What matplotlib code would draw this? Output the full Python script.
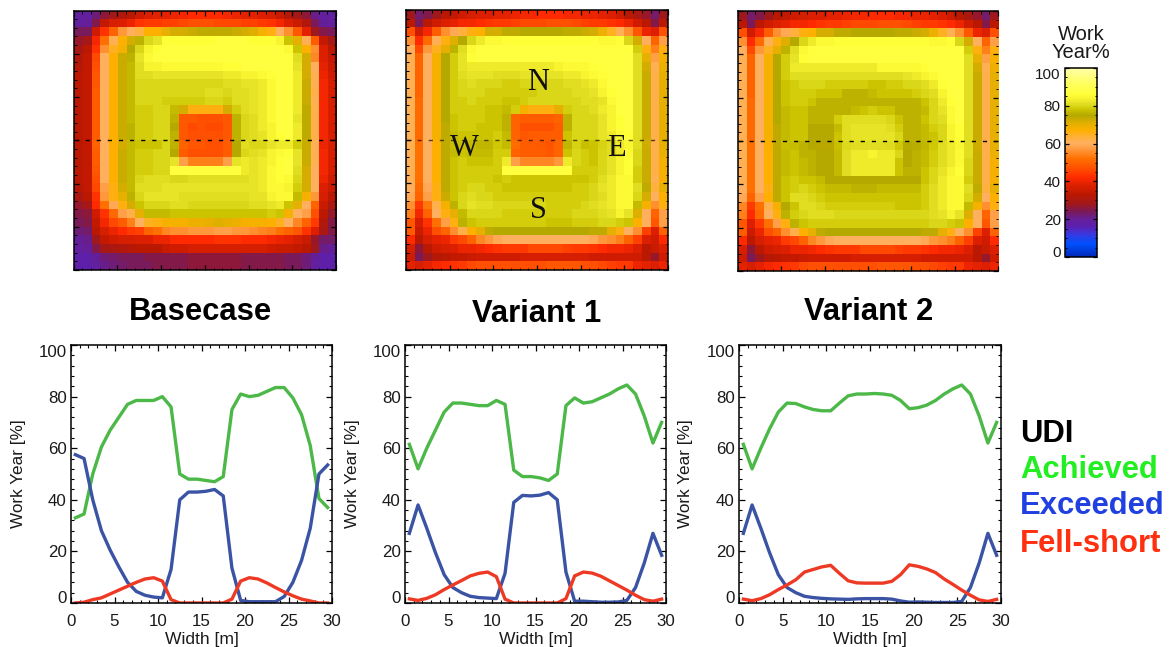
import numpy as np
import matplotlib
matplotlib.use("Agg")
import matplotlib.pyplot as plt
from matplotlib.colors import LinearSegmentedColormap, Normalize
from matplotlib.cm import ScalarMappable
from matplotlib.ticker import MultipleLocator

plt.rcParams['font.family'] = ['Liberation Sans', 'DejaVu Sans']

W, H = 1171, 647
width_m = [i + 0.5 for i in range(30)]

achieved_base = [33,34.5,50,60.5,67,72,77,78.5,78.5,78.5,80,76,50,48,48,47.5,47,49,75,81,80,80.5,82,83.5,83.5,79.5,73,61,40.5,37]
exceeded_base = [57.5,56,40,28,20.5,14,8,4.5,3,2.3,2,13,40,43,43,43.3,44,41.5,13.5,1,0.5,0.5,0.5,0.5,2.5,8,16.5,29,50,53.5]
fellshort_base = [0,0.3,1.3,2,3.5,5,6.5,8,9.3,9.8,8.5,1.3,0,0,0,0,0,0,1.5,8.5,9.8,9.3,7.8,6,4.3,2.8,1.5,0.8,0,0]

achieved_v1 = [61.5,52,60,67,74,77.5,77.5,77,76.5,76.5,78.5,77,51.5,49,49,48.5,47.5,50,76.5,79.5,77.5,78,79.5,81,83,84.5,81,72.5,62,70]
exceeded_v1 = [27,38,29,19.5,11,6,4,2.6,2.1,1.9,1.7,11.5,39,41.7,41.5,41.8,42.8,40,12,0.7,0.7,0.5,0.3,0.3,0.4,1,6,15.5,27,18.5]
fellshort_v1 = [1.6,1.0,1.8,3.2,5.2,7,8.7,10.5,11.5,12,10.2,1.5,0,0,0,0,0,0,1.7,10.5,12,11.6,10.4,8.6,6.8,5,3,1.3,0.7,1.5]

achieved_v2 = [61.5,52,60,67.5,74,77.5,77.3,76,75,74.5,74.5,77.5,80.3,81,81,81.2,81,80.5,78.5,75.3,75.7,76.7,78.5,81,83,84.5,81,72.5,62,70]
exceeded_v2 = [27,38,29,19.5,11,6,4,2.6,2.1,1.8,1.6,1.5,1.4,1.6,1.7,1.7,1.7,1.5,0.8,0.3,0.4,0.3,0.2,0.2,0.2,0.6,6,15.5,27,18.5]
fellshort_v2 = [1.5,0.9,1.7,3.2,5.2,7,9,12,13,14,14.6,11.5,8.6,7.8,7.7,7.7,7.7,8.4,11,14.8,14.2,13.2,11.8,9.3,7.2,5,3,1.2,0.6,1.4]

basecase_map = [
 [19,19,22,26,29,31,33,36,38,39, 39,40,41,42,42,42,42,41,40,39, 39,38,37,35,32,29,26,21,19,19],
 [19,20,25,34,37,38,40,43,44,44, 45,45,46,47,47,47,46,46,46,45, 45,44,43,41,38,35,31,24,20,19],
 [24,24,36,43,50,57,60,63,67,67, 70,72,72,73,74,74,74,74,73,72, 71,68,66,60,56,48,39,28,25,24],
 [27,29,41,52,61,67,72,76,80,82, 86,86,86,86,86,86,87,87,87,87, 86,86,86,84,78,70,61,49,34,29],
 [29,33,43,56,65,68,75,80,84,86, 87,87,87,87,87,87,87,87,87,87, 87,87,87,87,85,78,67,56,38,33],
 [31,34,46,60,67,73,76,82,85,87, 87,87,87,87,87,87,87,87,87,87, 87,87,87,87,87,81,72,55,38,34],
 [32,34,47,60,67,73,77,81,84,84, 85,85,85,85,85,85,85,86,86,87, 87,87,87,87,87,82,72,60,39,35],
 [33,34,48,60,67,73,77,81,81,82, 82,82,82,82,82,82,82,83,83,84, 84,85,86,87,87,83,72,61,40,36],
 [33,34,48,60,67,73,77,80,80,80, 80,80,80,80,80,80,80,81,81,82, 82,83,85,87,87,83,73,61,41,37],
 [33,34,49,60,67,73,77,80,80,80, 80,80,80,80,80,81,81,80,81,81, 82,83,85,87,87,83,73,62,41,37],
 [33,34,49,60,67,73,77,80,80,80, 79,79,79,79,79,80,80,79,81,81, 82,83,85,87,87,83,73,61,41,37],
 [33,34,49,60,67,73,77,79,79,80, 80,77,72,66,66,66,66,72,79,81, 82,83,85,87,87,83,74,62,41,37],
 [33,34,49,60,67,73,77,79,79,80, 80,76,48,48,47,47,47,48,76,80, 81,83,85,87,87,82,74,62,41,37],
 [33,34,49,60,67,73,76,79,79,80, 80,75,48,46,47,46,46,48,76,80, 81,83,84,87,87,83,74,62,41,37],
 [33,34,49,60,67,73,76,79,79,80, 80,76,48,47,47,47,47,48,76,80, 81,82,84,86,87,83,74,62,41,37],
 [33,34,50,60,67,72,77,78,78,78, 80,76,50,48,48,47,47,49,75,81, 80,80,82,83,83,79,73,61,40,37],
 [33,34,49,60,67,73,77,79,79,80, 80,75,49,47,47,47,47,49,75,80, 81,82,84,85,86,82,73,61,41,37],
 [33,34,49,60,67,73,77,79,79,80, 80,82,58,54,54,54,54,58,82,83, 82,83,84,86,87,82,73,61,41,37],
 [33,34,48,60,67,73,77,79,79,80, 80,87,87,87,87,87,87,87,87,83, 82,83,85,86,87,81,72,60,41,37],
 [33,34,47,60,67,73,77,80,81,81, 81,80,80,81,81,81,81,81,81,81, 82,83,85,86,85,80,72,60,40,36],
 [32,34,46,58,66,72,77,81,81,81, 82,82,82,82,82,82,82,82,82,82, 82,83,85,85,84,79,72,60,38,35],
 [30,33,43,57,66,70,76,80,82,82, 82,82,81,81,81,81,81,81,81,81, 82,82,84,85,85,77,68,57,37,33],
 [27,29,42,52,59,66,72,78,80,80, 80,81,81,80,80,80,80,80,80,80, 81,81,82,83,78,70,60,50,35,30],
 [25,26,36,43,51,58,62,70,77,77, 77,78,78,78,78,78,78,78,78,78, 78,78,79,78,68,60,58,47,33,27],
 [24,25,34,41,46,49,54,60,65,66, 68,68,68,69,69,70,71,70,69,68, 68,68,67,65,60,55,50,44,31,25],
 [22,23,33,37,40,42,44,45,50,52, 55,56,56,57,57,57,58,58,57,57, 56,55,54,52,50,48,43,38,30,25],
 [20,21,28,34,36,37,37,38,38,40, 40,42,42,42,42,42,43,43,43,42, 42,42,41,40,39,37,35,27,23,23],
 [19,20,25,29,30,31,32,33,33,33, 35,36,36,37,37,37,37,37,37,37, 37,37,36,35,35,34,33,28,21,20],
 [17,17,20,22,23,24,24,24,25,25, 25,25,25,26,26,26,26,26,26,25, 25,25,25,25,24,24,22,20,17,17],
 [17,17,19,21,22,23,24,24,24,25, 25,25,25,26,26,26,26,26,26,25, 25,25,25,25,24,24,22,19,17,17],
]

variant1_map = [
 [28,23,25,28,33,34,36,37,38,38, 39,39,40,41,41,42,42,42,41,41, 40,40,39,38,36,33,30,27,23,28],
 [33,24,33,36,38,39,41,41,42,43, 44,44,45,46,46,46,47,47,47,46, 45,44,44,43,42,40,36,33,25,33],
 [47,36,41,49,56,59,63,66,67,72, 72,74,74,75,75,75,75,75,74,74, 73,72,69,65,61,56,48,40,38,47],
 [56,42,51,61,66,71,75,80,83,85, 85,86,86,86,86,86,86,86,86,86, 86,86,85,85,86,80,72,60,50,58],
 [60,46,57,65,70,76,81,85,87,87, 87,87,87,87,87,87,87,87,87,87, 87,87,87,87,87,87,79,66,54,66],
 [61,50,60,68,75,79,82,86,87,87, 87,87,87,87,87,87,87,87,87,87, 87,87,87,87,87,87,81,70,58,68],
 [61,50,60,68,75,79,82,83,83,83, 83,83,83,83,83,83,83,84,85,85, 85,86,87,87,87,87,81,72,61,69],
 [61,50,60,68,75,79,81,82,82,82, 81,81,81,82,82,82,82,82,83,83, 84,85,86,87,87,87,81,73,62,70],
 [61,50,60,68,75,79,80,81,80,80, 80,79,79,80,80,80,80,80,81,81, 82,83,85,87,87,87,81,73,62,70],
 [61,50,60,68,75,79,80,80,80,79, 79,79,79,79,79,80,80,80,80,81, 81,82,84,86,87,87,81,73,62,70],
 [61,51,60,68,75,79,79,80,79,79, 79,78,78,79,80,80,80,80,80,80, 81,81,82,85,87,87,81,73,62,70],
 [61,51,60,68,75,79,79,79,79,78, 78,77,79,68,66,66,66,70,79,80, 80,81,83,84,87,87,81,73,62,70],
 [61,51,60,68,75,78,79,79,79,78, 78,76,50,49,49,49,49,50,76,80, 80,80,82,84,86,87,81,73,62,70],
 [61,51,60,68,74,78,79,79,78,78, 78,76,50,47,47,47,47,49,76,80, 80,80,82,84,86,87,81,73,62,70],
 [61,51,60,68,74,77,78,78,78,78, 79,77,50,48,49,49,49,49,78,80, 80,80,82,83,85,86,81,73,62,70],
 [61.5,52,60,67,74,77.5,77.5,77,76.5,76.5, 78.5,77,51.5,49,49,48.5,47.5,50,76.5,79.5, 77.5,78,79.5,81,83,84.5,81,72.5,62,70],
 [61,52,60,67,74,77,78,77,77,77, 79,79,50,49,49,49,48,50,78,80, 79,78,80,81,83,85,80,73,62,69],
 [61,52,60,67,74,78,79,78,78,78, 79,83,58,55,55,55,55,57,83,80, 79,78,80,82,84,86,80,73,62,68],
 [61,52,60,67,74,78,79,79,79,79, 79,87,87,87,87,87,87,87,87,79, 79,79,80,82,84,86,79,73,62,68],
 [61,52,60,67,74,78,79,79,79,79, 78,79,78,78,78,78,78,78,78,78, 78,79,81,83,85,85,79,73,61,68],
 [60,51,59,66,74,78,79,80,80,79, 79,78,78,78,78,78,78,78,78,79, 79,80,82,83,85,85,81,74,63,70],
 [59,50,58,66,73,78,80,81,80,80, 79,79,79,79,79,79,79,79,79,79, 79,80,81,83,85,85,80,72,60,67],
 [56,44,53,62,68,76,80,82,81,81, 80,80,80,80,80,80,79,79,79,79, 80,81,82,83,85,85,77,68,56,66],
 [54,41,50,60,66,70,77,80,80,80, 80,79,79,79,79,79,79,79,79,80, 80,80,81,82,84,82,71,60,50,58],
 [48,37,43,52,58,66,76,78,79,79, 79,79,79,79,79,79,78,78,78,79, 79,79,80,80,79,78,67,60,48,58],
 [49,35,40,47,50,56,62,67,70,74, 75,75,75,75,75,75,75,75,75,75, 75,74,74,70,66,60,56,45,38,50],
 [42,33,37,39,40,44,46,50,55,57, 59,60,60,60,60,60,60,60,60,60, 60,59,57,56,54,50,45,38,36,42],
 [37,26,33,36,37,38,40,40,41,42, 43,44,44,44,46,46,46,46,45,44, 44,43,42,41,41,40,38,33,35,38],
 [36,24,28,32,33,34,34,35,36,36, 36,36,36,37,37,37,37,37,37,37, 37,36,36,36,36,36,36,33,27,36],
 [39,37,39,41,42,43,44,46,47,47, 47,47,47,47,47,47,48,48,48,48, 47,47,46,45,44,44,40,39,38,40],
]

variant2_map = [
 [28,23,25,28,33,34,36,37,38,38, 39,39,40,41,41,42,42,42,41,41, 40,40,39,38,36,33,30,27,23,28],
 [33,24,33,36,38,39,41,41,42,43, 44,44,45,46,46,46,47,47,47,46, 45,44,44,43,42,40,36,33,25,33],
 [47,36,41,49,56,59,63,66,67,72, 72,74,74,75,75,75,75,75,74,74, 73,72,69,65,61,56,48,40,38,47],
 [56,42,51,61,66,71,75,80,83,85, 85,86,86,86,86,86,86,86,86,86, 86,86,85,85,86,80,72,60,50,58],
 [60,46,57,65,70,76,81,85,87,87, 87,87,87,87,87,87,87,87,87,87, 87,87,87,87,87,87,79,66,54,66],
 [61,50,60,68,75,79,82,86,87,87, 87,87,87,87,87,87,87,87,87,87, 87,87,87,87,87,87,81,70,58,68],
 [61,50,60,68,75,79,83,83,83,83, 83,83,83,83,83,83,85,85,85,85, 85,86,87,87,87,87,81,72,61,69],
 [61,50,60,68,75,79,81,81,81,81, 81,81,81,81,81,81,81,81,81,82, 83,84,85,87,87,87,81,73,62,70],
 [61,50,60,68,75,78,79,80,80,80, 79,79,79,79,79,78,78,79,79,80, 80,81,83,86,87,87,81,73,62,70],
 [61,50,60,68,75,78,79,79,79,78, 78,78,76,76,76,77,78,78,78,78, 79,80,81,84,87,87,81,73,62,70],
 [61,51,60,68,75,78,79,79,78,76, 76,76,76,76,76,76,76,76,76,76, 76,78,80,83,86,87,81,73,62,70],
 [61,51,60,68,75,77,78,78,76,76, 76,76,76,77,78,79,78,78,76,76, 76,77,80,82,85,87,81,73,62,70],
 [61,51,60,68,75,77,78,78,76,76, 76,79,81,81,81,81,81,80,78,76, 76,78,80,81,85,87,81,73,62,70],
 [61,51,60,68,74,77,78,78,75,75, 75,77,81,82,82,82,82,81,79,76, 76,77,79,80,84,86,81,73,62,70],
 [61,51,60,68,74,77,78,78,75,75, 75,78,81,82,82,82,82,82,80,76, 76,77,78,80,84,86,81,73,62,70],
 [61.5,52,60,67.5,74,77.5,77.3,76,75,74.5, 74.5,77.5,80.3,81,81,81.2,81,80.5,78.5,75.3, 75.7,76.7,78.5,81,83,84.5,81,72.5,62,70],
 [61,52,60,67,74,77,78,76,76,75, 75,77,81,83,83,84,83,83,80,75, 76,77,79,81,83,85,81,73,62,69],
 [61,52,60,67,74,77,78,77,76,75, 75,77,81,83,83,83,83,83,78,75, 76,77,79,81,83,85,80,73,62,68],
 [61,52,60,67,74,77,78,77,76,75, 75,77,81,83,83,83,83,83,78,76, 76,78,80,82,84,86,80,73,62,68],
 [61,52,60,67,74,78,79,78,78,77, 75,75,75,75,75,75,75,75,75,75, 75,78,80,83,85,85,79,73,62,68],
 [60,52,60,66,74,78,79,80,79,78, 77,77,77,76,76,76,77,77,77,77, 77,79,81,83,85,85,81,74,63,70],
 [59,50,58,67,74,78,81,81,80,79, 78,78,78,78,78,78,78,78,78,78, 78,79,81,83,85,85,80,72,60,67],
 [55,44,52,62,68,75,78,81,81,80, 79,79,79,79,79,79,79,79,78,78, 78,79,81,83,85,85,77,68,56,66],
 [54,42,51,60,66,76,79,80,81,81, 81,80,80,80,80,80,80,80,80,80, 80,80,81,82,84,82,71,60,50,58],
 [48,38,44,52,58,66,76,78,79,79, 79,79,79,79,79,79,79,79,79,79, 79,79,80,80,79,78,67,60,48,58],
 [49,35,40,47,50,56,62,67,70,74, 75,75,75,75,75,75,75,75,75,75, 75,74,74,70,66,60,56,45,38,50],
 [42,33,37,39,40,44,46,50,55,57, 59,60,60,60,60,60,60,60,60,60, 60,59,57,56,54,50,45,38,36,42],
 [37,26,33,36,37,38,40,40,41,42, 43,44,44,44,46,46,46,46,45,44, 44,43,42,41,41,40,38,33,35,38],
 [36,24,28,32,33,34,34,35,36,36, 36,36,36,37,37,37,37,37,37,37, 37,36,36,36,36,36,36,33,27,36],
 [39,37,39,41,42,43,44,46,47,47, 47,47,47,47,47,47,48,48,48,48, 47,47,46,45,44,44,40,39,38,40],
]

cmap_stops = [
 (0, '#0028b8'), (7, '#0050ff'), (12, '#3a38e0'), (16, '#5c20b0'), (20, '#651f98'),
 (24, '#7a1a58'), (28, '#a0181c'), (33, '#bb1800'), (38, '#dd2000'), (42, '#ff2a00'),
 (47, '#ff5000'), (52, '#ff7000'), (56, '#ff9030'), (60, '#ffb060'), (63, '#ffb040'),
 (67, '#ffb000'), (71, '#e0b000'), (75, '#b4a800'), (78, '#ccc400'), (80, '#dad618'),
 (82, '#e8e428'), (84, '#f8f430'), (86, '#ffff38'), (92, '#ffff60'), (100, '#ffffa8'),
]
cmap = LinearSegmentedColormap.from_list('workyear', [(v / 100, c) for v, c in cmap_stops], N=512)
norm = Normalize(0, 100)

map_panels = [
 (basecase_map, (73.5, 10.5, 336, 270), 1.0, True),
 (variant1_map, (406, 10, 668, 270), 0.65, True),
 (variant2_map, (738, 11, 998, 271), 1.0, False),
]
line_panels = [
 (achieved_base, exceeded_base, fellshort_base, (71, 345, 332, 603)),
 (achieved_v1, exceeded_v1, fellshort_v1, (405, 345, 666, 603)),
 (achieved_v2, exceeded_v2, fellshort_v2, (739, 345, 1001, 603)),
]
titles = [('Basecase', 200, 312), ('Variant 1', 537, 314), ('Variant 2', 869, 312)]
compass = [('N', 538, 82), ('W', 464, 149), ('E', 616, 149), ('S', 538, 210)]
legend_labels = [('UDI', '#000000', 434), ('Achieved', '#22ee22', 470), ('Exceeded', '#2040e0', 506), ('Fell-short', '#ff3010', 544)]
y_ticks = [0, 20, 40, 60, 80, 100]
x_ticks = [0, 5, 10, 15, 20, 25, 30]

fig = plt.figure(figsize=(W / 100, H / 100), dpi=100)
fig.patch.set_facecolor('white')
TXT = '#1a1a1a'


def add_axes(box):
    l, t, r, b = box
    return fig.add_axes([l / W, 1 - b / H, (r - l) / W, (b - t) / H])


def px_text(x, y, s, **kw):
    fig.text(x / W, 1 - y / H, s, ha=kw.pop('ha', 'center'), va=kw.pop('va', 'center'), **kw)


def edge_labels(ax):
    labels = ax.get_yticklabels()
    labels[0].set_va('baseline')
    labels[-1].set_va('top')


for data, box, dash_alpha, right_spine in map_panels:
    ax = add_axes(box)
    ax.imshow(np.array(data), cmap=cmap, norm=norm, extent=(0, 30, 30, 0),
              interpolation='nearest', aspect='auto')
    ax.axhline(15, color='black', lw=1.0, ls=(0, (3, 5)), alpha=dash_alpha)
    ax.set_xticks(x_ticks)
    ax.set_yticks(x_ticks)
    ax.xaxis.set_minor_locator(MultipleLocator(1))
    ax.yaxis.set_minor_locator(MultipleLocator(1))
    ax.tick_params(which='major', direction='in', length=3.5, width=0.9, top=True, right=True,
                   labelleft=False, labelbottom=False)
    ax.tick_params(which='minor', direction='in', length=1.8, width=0.7, top=True, right=True)
    for name, sp in ax.spines.items():
        sp.set_linewidth(1.1)
    if not right_spine:
        ax.spines['right'].set_visible(False)

for ach, exc, fel, box in line_panels:
    ax = add_axes(box)
    ax.plot(width_m, ach, color='#4cb848', lw=2.4, solid_joinstyle='round')
    ax.plot(width_m, exc, color='#3a53a4', lw=2.4, solid_joinstyle='round')
    ax.plot(width_m, fel, color='#ee3a24', lw=2.4, solid_joinstyle='round')
    ax.set_xlim(0, 30)
    ax.set_ylim(0, 100)
    ax.set_xticks(x_ticks)
    ax.set_yticks(y_ticks)
    ax.xaxis.set_minor_locator(MultipleLocator(1))
    ax.yaxis.set_minor_locator(MultipleLocator(4))
    ax.tick_params(which='major', direction='in', length=4.5, width=0.9, top=True, right=True,
                   labelsize=12.2, labelcolor=TXT)
    ax.tick_params(which='minor', direction='in', length=2.2, width=0.8, top=True, right=True)
    ax.tick_params(axis='x', which='major', pad=8)
    ax.tick_params(axis='y', which='major', pad=3)
    edge_labels(ax)
    for sp in ax.spines.values():
        sp.set_linewidth(1.1)
    ax.set_ylabel('Work Year [%]', fontsize=12.3, color=TXT)
    ax.yaxis.set_label_coords(-0.203, 0.5)
    ax.yaxis.label.set_va('center')
    ax.set_xlabel('Width [m]', fontsize=12.6, color=TXT)
    ax.xaxis.set_label_coords(0.5, -0.14)
    ax.xaxis.label.set_va('center')

cax = add_axes((1065, 68, 1097, 257))
sm = ScalarMappable(norm=norm, cmap=cmap)
cb = fig.colorbar(sm, cax=cax)
cb.set_ticks(y_ticks)
cax.yaxis.set_ticks_position('both')
cax.yaxis.set_minor_locator(MultipleLocator(5))
cax.tick_params(which='major', direction='in', length=3, width=0.9, left=True, right=True,
                labelleft=True, labelright=False, labelsize=11, labelcolor=TXT, pad=3)
cax.tick_params(which='minor', direction='in', length=1.5, width=0.7, left=True, right=True)
cb.outline.set_linewidth(1.1)
edge_labels(cax)
px_text(1081, 34, 'Work', fontsize=14.5, color=TXT)
px_text(1081, 52, 'Year%', fontsize=14.5, color=TXT)

for s, x, y in titles:
    px_text(x, y, s, fontsize=22.3, fontweight='bold', color='black')
for s, x, y in compass:
    px_text(x, y, s, fontsize=22, family='Liberation Serif', color='#111111')
for s, c, y in legend_labels:
    px_text(1020, y, s, fontsize=22.3, fontweight='bold', color=c, ha='left')

fig.savefig('out.png', dpi=100)
